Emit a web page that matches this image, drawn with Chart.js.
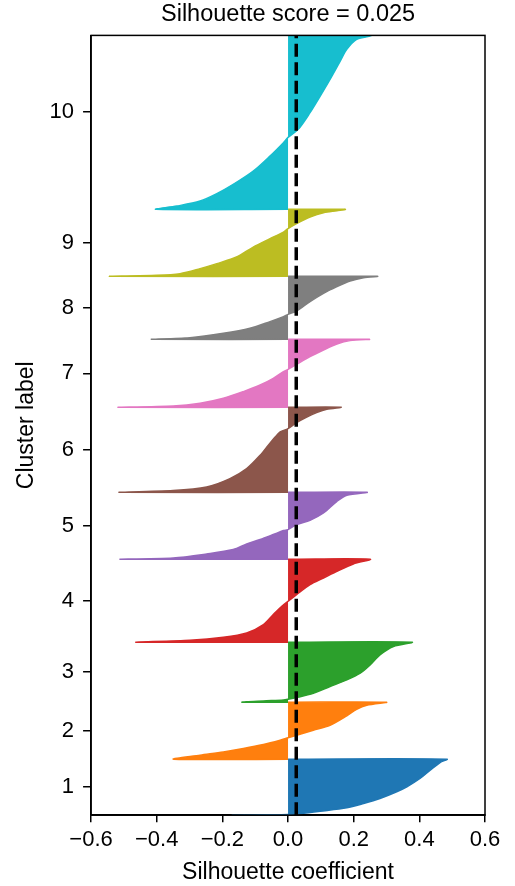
<!DOCTYPE html>
<html>
<head>
<meta charset="utf-8">
<title>Silhouette plot</title>
<script src="https://cdn.jsdelivr.net/npm/chart.js@4.4.1/dist/chart.umd.min.js"></script>
<style>
  html, body { margin: 0; padding: 0; background: #fff; }
  #wrap { width: 515px; height: 886px; position: relative; }
</style>
</head>
<body>
<div id="wrap"><canvas id="silhouetteChart"></canvas></div>
<script>
// cluster labels, sizes (samples) and overall score
const clusterLabels = ['1', '2', '3', '4', '5', '6', '7', '8', '9', '10'];
const clusterSizes = [56, 57, 60, 83, 67, 85, 68, 63, 67, 195];
const silhouetteScore = 0.025;
const xTicks = [-0.6, -0.4, -0.2, 0.0, 0.2, 0.4, 0.6];

// sorted silhouette values per cluster: [rank within cluster, coefficient]
const profile1 = [[0, -0.17], [0.4, -0.06], [0.8, 0], [1.7, 0.037], [4, 0.098], [7.4, 0.179], [11.7, 0.23], [16.7, 0.28], [23.4, 0.331], [28.4, 0.362], [36.7, 0.402], [45, 0.433], [52.7, 0.463], [56, 0.484]];
const profile2 = [[0, -0.348], [4, -0.268], [7.3, -0.197], [10.7, -0.136], [14.7, -0.075], [19, -0.024], [21.4, 0], [24, 0.026], [29, 0.077], [34, 0.128], [43.4, 0.179], [50, 0.209], [54, 0.24], [57, 0.299]];
const profile3 = [[0, -0.14], [1.3, -0.075], [2.3, -0.014], [3, 0], [4.7, 0.026], [9, 0.077], [15.7, 0.128], [22.3, 0.179], [29, 0.22], [37.3, 0.25], [47.3, 0.28], [55.7, 0.321], [60, 0.377]];
const profile4 = [[0, -0.461], [2, -0.299], [5, -0.197], [9.3, -0.126], [17.7, -0.075], [27.7, -0.045], [36, -0.019], [41, 0], [47.7, 0.026], [57.7, 0.067], [64.3, 0.108], [71, 0.149], [78.3, 0.199], [83, 0.25]];
const profile5 = [[0, -0.509], [1.3, -0.35], [5.3, -0.248], [9.7, -0.167], [15.3, -0.126], [19.7, -0.085], [24.7, -0.045], [28.7, -0.014], [29.7, 0], [34.7, 0.026], [39, 0.067], [46.3, 0.108], [58, 0.149], [64, 0.179], [67, 0.24]];
const profile6 = [[0, -0.512], [1.7, -0.35], [5.3, -0.248], [13.7, -0.177], [23.7, -0.126], [37, -0.085], [47, -0.06], [55, -0.04], [60.3, -0.024], [63.7, 0], [69.7, 0.026], [75.3, 0.057], [79.7, 0.087], [83, 0.118], [85, 0.161]];
const profile7 = [[0, -0.515], [1.3, -0.35], [4, -0.268], [9, -0.197], [15.7, -0.136], [22.3, -0.085], [29, -0.045], [35.7, -0.014], [38, 0], [43, 0.026], [50.7, 0.067], [57.3, 0.108], [63.3, 0.149], [66.7, 0.189], [68, 0.247]];
const profile8 = [[0, -0.414], [1.7, -0.299], [6, -0.197], [11, -0.116], [17.7, -0.055], [22.7, -0.014], [25, 0], [28.3, 0.026], [37.7, 0.067], [46, 0.108], [52.7, 0.149], [58.3, 0.189], [61.7, 0.23], [63, 0.272]];
const profile9 = [[0, -0.541], [1, -0.4], [2.7, -0.329], [7.7, -0.268], [12.7, -0.217], [19.3, -0.157], [29.3, -0.106], [37.7, -0.055], [44.3, -0.014], [47.7, 0], [52.7, 0.026], [59.3, 0.067], [63.7, 0.108], [65.7, 0.149], [67, 0.174]];
const profile10 = [[0, -0.402], [3.3, -0.339], [8.3, -0.268], [15.7, -0.217], [25, -0.167], [38.3, -0.106], [53.3, -0.055], [66.7, -0.014], [72, 0], [80, 0.031], [96.7, 0.067], [113.3, 0.098], [130, 0.128], [148.3, 0.159], [160, 0.179], [170, 0.209], [174, 0.255], [180, 0.27], [195, 0.28]];

const profiles = [profile1, profile2, profile3, profile4, profile5, profile6, profile7, profile8, profile9, profile10];
const tab10 = ['#1f77b4', '#ff7f0e', '#2ca02c', '#d62728', '#9467bd', '#8c564b', '#e377c2', '#7f7f7f', '#bcbd22', '#17becf'];

const yMax = 780;

// stack clusters bottom-up, tick at the middle of each block
const yLower = [];
let acc = 0;
clusterSizes.forEach(n => { yLower.push(acc); acc += n; });
const yCenters = clusterSizes.map((n, i) => yLower[i] + n / 2);

const clusterSets = profiles.map((prof, i) => {
  const base = yLower[i];
  const pts = prof.map(([r, v]) => ({ x: v, y: base + r }));
  // close the shape on the x = 0 line
  pts.unshift({ x: 0, y: base });
  pts.push({ x: 0, y: base + clusterSizes[i] });
  return {
    label: 'Cluster ' + clusterLabels[i],
    data: pts,
    showLine: true,
    fill: 'shape',
    backgroundColor: tab10[i],
    borderColor: tab10[i],
    borderWidth: 1.5,
    pointRadius: 0,
    tension: 0.3,
    order: 1
  };
});

const scoreLine = {
  label: 'score',
  data: [{ x: silhouetteScore, y: 0 }, { x: silhouetteScore, y: yMax }],
  showLine: true,
  fill: false,
  borderColor: '#000',
  borderWidth: 3.5,
  borderDash: [13, 5.5],
  pointRadius: 0,
  order: 0
};

const frame = {
  id: 'frame',
  afterDatasetsDraw(chart) {
    const { ctx, chartArea: a } = chart;
    ctx.save();
    ctx.strokeStyle = '#000';
    ctx.lineWidth = 1.5;
    ctx.strokeRect(a.left, a.top, a.right - a.left, a.bottom - a.top);
    ctx.restore();
  }
};

Chart.defaults.font.family = "'Liberation Sans', Arial, Helvetica, sans-serif";
Chart.defaults.color = '#000';

const fmt = v => {
  const s = Math.abs(v).toFixed(1);
  return v < -1e-9 ? '\u2212' + s : s;
};

new Chart(document.getElementById('silhouetteChart'), {
  type: 'scatter',
  data: { datasets: [scoreLine].concat(clusterSets) },
  options: {
    responsive: true,
    maintainAspectRatio: false,
    animation: false,
    layout: { padding: { left: 2, right: 30, top: 0, bottom: 0 } },
    plugins: {
      legend: { display: false },
      tooltip: { enabled: false },
      title: { display: false }
    },
    scales: {
      x: {
        type: 'linear',
        position: 'bottom',
        min: -0.6,
        max: 0.6,
        afterBuildTicks: axis => { axis.ticks = xTicks.map(v => ({ value: v })); },
        ticks: { callback: v => fmt(v), font: { size: 22, lineHeight: 1.1 }, color: '#000', padding: 6, maxRotation: 0 },
        grid: { drawOnChartArea: false, drawTicks: true, tickLength: 7, color: '#000', lineWidth: 1.5 },
        border: { color: '#000', width: 1.5 },
        title: { display: true, text: 'Silhouette coefficient', font: { size: 23 }, color: '#000', padding: { top: 0, bottom: 0 } }
      },
      // top axis only carries the plot title, centred over the axes
      xTop: {
        type: 'linear',
        position: 'top',
        min: -0.6,
        max: 0.6,
        ticks: { display: false },
        grid: { display: false, drawTicks: false, tickLength: 0 },
        border: { display: false },
        title: {
          display: true,
          text: 'Silhouette score = ' + silhouetteScore.toFixed(3),
          font: { size: 23.5 },
          color: '#000',
          padding: { top: 0, bottom: 7.2 }
        }
      },
      y: {
        type: 'linear',
        min: 0,
        max: yMax,
        afterBuildTicks: axis => { axis.ticks = yCenters.map(v => ({ value: v })); },
        ticks: { callback: (v, i) => clusterLabels[i], font: { size: 22 }, color: '#000', padding: 9, autoSkip: false },
        grid: { drawOnChartArea: false, drawTicks: true, tickLength: 8, color: '#000', lineWidth: 1.5 },
        border: { color: '#000', width: 1.5 },
        title: { display: true, text: 'Cluster label', font: { size: 23 }, color: '#000', padding: { top: 11, bottom: 0 } }
      }
    }
  },
  plugins: [frame]
});
</script>
</body>
</html>
